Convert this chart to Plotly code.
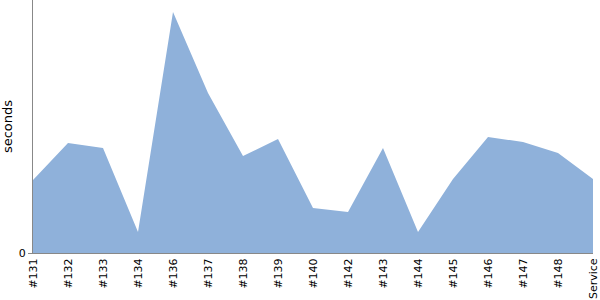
import plotly.graph_objects as go

categories = ["#131", "#132", "#133", "#134", "#136", "#137", "#138", "#139", "#140",
              "#142", "#143", "#144", "#145", "#146", "#147", "#148", "Service"]
seconds = [7.3, 11.0, 10.5, 2.1, 24.1, 16.0, 9.7, 11.4, 4.5,
           4.1, 10.5, 2.1, 7.4, 11.6, 11.1, 10.0, 7.4]

fig = go.Figure()
fig.add_trace(go.Scatter(
    x=categories, y=seconds, mode="lines", fill="tozeroy",
    line=dict(color="#8fb1da", width=0), fillcolor="#8fb1da",
    hoverinfo="x+y",
))
fig.update_layout(
    width=600, height=300,
    margin=dict(l=33, r=5, t=0, b=47),
    paper_bgcolor="white", plot_bgcolor="white",
    showlegend=False,
    font=dict(family="DejaVu Sans, Verdana, sans-serif", size=11, color="black"),
    xaxis=dict(type="category", range=[0, 16], tickangle=-90,
               showline=True, linecolor="#888888", linewidth=1,
               showgrid=False, zeroline=False, ticks="",
               tickfont=dict(size=11)),
    yaxis=dict(range=[0, 25.3], tickvals=[0], ticktext=["0"],
               showline=True, linecolor="#888888", linewidth=1,
               showgrid=False, zeroline=False, ticks="outside", ticklen=4,
               tickcolor="#888888",
               title=dict(text="seconds", font=dict(size=13), standoff=3),
               tickfont=dict(size=11)),
)
fig.write_html("out.html")
